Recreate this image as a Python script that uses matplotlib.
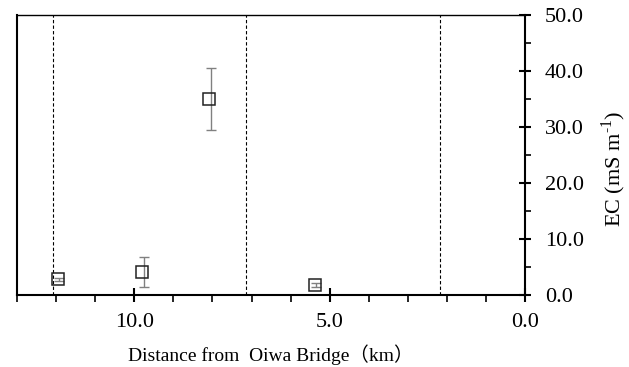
import matplotlib
matplotlib.use('Agg')
import matplotlib.pyplot as plt
from matplotlib.ticker import MultipleLocator, FormatStrFormatter

# distance upstream of Oiwa Bridge (km) and EC readings
dist = [11.95, 9.80, 8.09, 5.37]
ec = [2.8, 4.1, 35.0, 1.8]
err_dist = [11.92, 9.75, 8.03, 5.35]
ec_err = [0.3, 2.7, 5.5, 0.3]
# section boundaries
bounds = [12.08, 7.13, 2.18]

plt.rcParams['font.family'] = ['Liberation Serif', 'Noto Sans CJK JP']
plt.rcParams['mathtext.fontset'] = 'custom'
plt.rcParams['mathtext.rm'] = 'Liberation Serif'

fig = plt.figure(figsize=(6.29, 3.67), dpi=100)
ax = fig.add_axes([0.027, 0.196, 0.808, 0.763])

for b in bounds:
    ax.axvline(b, color='black', lw=0.8, ls=(0, (3, 2)))

ax.errorbar(err_dist, ec, yerr=ec_err, fmt='none', ecolor='#808080',
            elinewidth=1.0, capsize=3.5, capthick=1.0)
ax.plot(dist, ec, 's', ms=9, mfc='none', mec='#222222', mew=1.1)

ax.set_xlim(13, 0)
ax.set_ylim(0, 50)

ax.yaxis.tick_right()
ax.yaxis.set_label_position('right')
ax.xaxis.set_major_locator(MultipleLocator(5))
ax.xaxis.set_minor_locator(MultipleLocator(1))
ax.yaxis.set_major_locator(MultipleLocator(10))
ax.yaxis.set_minor_locator(MultipleLocator(5))
ax.xaxis.set_major_formatter(FormatStrFormatter('%.1f'))
ax.yaxis.set_major_formatter(FormatStrFormatter('%.1f'))

ax.tick_params(axis='x', which='major', direction='inout', length=10, width=1.5,
               labelsize=16, pad=8)
ax.tick_params(axis='x', which='minor', direction='out', length=5, width=1.2)
ax.tick_params(axis='y', which='major', direction='inout', length=8, width=1.5,
               labelsize=16, pad=10)
ax.tick_params(axis='y', which='minor', direction='out', length=4, width=1.2)

for side in ['bottom', 'right', 'left']:
    ax.spines[side].set_linewidth(1.5)
ax.spines['top'].set_linewidth(1.0)

ax.set_xlabel('Distance from  Oiwa Bridge（km）', fontsize=14, labelpad=9)
ax.set_ylabel(r'EC (mS m$^{\text{-1}}$)', fontsize=16)
ax.yaxis.set_label_coords(1.145, 0.45)

fig.savefig('out.png', dpi=100)
